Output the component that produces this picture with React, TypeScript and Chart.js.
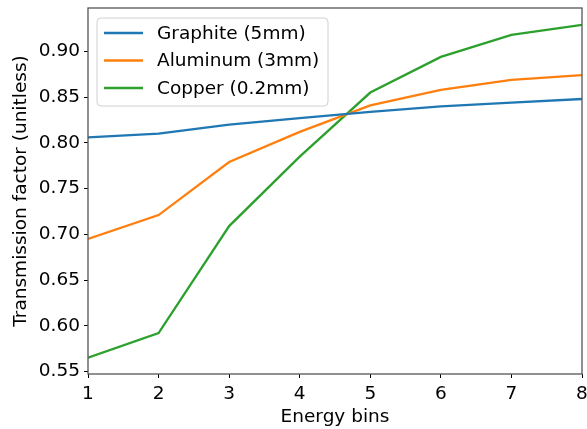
import React, { useEffect, useRef } from "react";
import { Chart, registerables } from "chart.js";

Chart.register(...registerables);

// Energy bin indices along the horizontal axis
const energyBins = [1, 2, 3, 4, 5, 6, 7, 8];

// Transmission factor for each filter material
const graphite5mm = [0.806, 0.810, 0.820, 0.827, 0.834, 0.840, 0.844, 0.848];
const aluminum3mm = [0.695, 0.721, 0.779, 0.812, 0.841, 0.858, 0.869, 0.874];
const copper02mm = [0.565, 0.592, 0.709, 0.785, 0.855, 0.894, 0.918, 0.929];

const seriesLabels = ["Graphite (5mm)", "Aluminum (3mm)", "Copper (0.2mm)"];
const seriesColors = ["#1f77b4", "#ff7f0e", "#2ca02c"];

const yTicks = [0.55, 0.6, 0.65, 0.7, 0.75, 0.8, 0.85, 0.9];
const xTicks = [1, 2, 3, 4, 5, 6, 7, 8];

const FONT = "'DejaVu Sans', sans-serif";
const FONT_SIZE = 18.5;

// Axes frame (all four spines)
const spinesPlugin = {
  id: "spines",
  afterDatasetsDraw(chart: any) {
    const { ctx, chartArea } = chart;
    ctx.save();
    ctx.strokeStyle = "#555";
    ctx.lineWidth = 1.3;
    ctx.strokeRect(chartArea.left, chartArea.top, chartArea.right - chartArea.left, chartArea.bottom - chartArea.top);
    ctx.restore();
  },
};

// Legend box in the upper-left corner of the plot
const legendPlugin = {
  id: "innerLegend",
  afterDraw(chart: any) {
    const { ctx, chartArea } = chart;
    const x0 = chartArea.left + 9;
    const y0 = chartArea.top + 10;
    const w = 231;
    const h = 88;
    const r = 4;
    ctx.save();
    ctx.beginPath();
    ctx.moveTo(x0 + r, y0);
    ctx.arcTo(x0 + w, y0, x0 + w, y0 + h, r);
    ctx.arcTo(x0 + w, y0 + h, x0, y0 + h, r);
    ctx.arcTo(x0, y0 + h, x0, y0, r);
    ctx.arcTo(x0, y0, x0 + w, y0, r);
    ctx.closePath();
    ctx.fillStyle = "rgba(255,255,255,0.8)";
    ctx.fill();
    ctx.strokeStyle = "#d0d0d0";
    ctx.lineWidth = 1;
    ctx.stroke();

    ctx.font = `${FONT_SIZE}px ${FONT}`;
    ctx.textBaseline = "middle";
    ctx.textAlign = "left";
    chart.data.datasets.forEach((ds: any, i: number) => {
      const cy = y0 + 15 + i * 27.5;
      ctx.strokeStyle = ds.borderColor;
      ctx.lineWidth = ds.borderWidth;
      ctx.beginPath();
      ctx.moveTo(x0 + 7, cy);
      ctx.lineTo(x0 + 46, cy);
      ctx.stroke();
      ctx.fillStyle = "#000";
      ctx.fillText(ds.label, x0 + 60, cy + 1);
    });
    ctx.restore();
  },
};

export default function App() {
  const canvasRef = useRef<HTMLCanvasElement | null>(null);

  useEffect(() => {
    document.body.style.margin = "0";
    const canvas = canvasRef.current;
    if (!canvas) return;
    const seriesValues = [graphite5mm, aluminum3mm, copper02mm];
    const chart = new Chart(canvas, {
      type: "line",
      data: {
        datasets: seriesValues.map((vals, i) => ({
          label: seriesLabels[i],
          data: energyBins.map((b, j) => ({ x: b, y: vals[j] })),
          borderColor: seriesColors[i],
          backgroundColor: seriesColors[i],
          borderWidth: 2.3,
          pointRadius: 0,
          tension: 0,
          fill: false,
        })),
      },
      options: {
        responsive: false,
        animation: false,
        devicePixelRatio: 1,
        layout: { padding: { top: 8, right: 5, left: 0, bottom: 0 } },
        plugins: {
          legend: { display: false },
          tooltip: { enabled: false },
        },
        scales: {
          x: {
            type: "linear",
            min: 1,
            max: 8,
            afterBuildTicks: (scale: any) => {
              scale.ticks = xTicks.map((v) => ({ value: v }));
            },
            afterFit: (scale: any) => {
              scale.height = 55;
              scale.paddingLeft = 0;
              scale.paddingRight = 0;
            },
            grid: {
              drawOnChartArea: false,
              drawTicks: true,
              tickLength: 4,
              color: "#000",
            },
            border: { display: false },
            ticks: {
              color: "#000",
              padding: 5,
              maxRotation: 0,
              font: { family: FONT, size: FONT_SIZE },
              callback: (v: any) => String(v),
            },
            title: {
              display: true,
              text: "Energy bins",
              color: "#000",
              font: { family: FONT, size: FONT_SIZE },
              padding: { top: 0, bottom: 1 },
            },
          },
          y: {
            type: "linear",
            min: 0.5472,
            max: 0.9475,
            afterBuildTicks: (scale: any) => {
              scale.ticks = yTicks.map((v) => ({ value: v }));
            },
            afterFit: (scale: any) => {
              scale.width = 88;
              scale.paddingTop = 0;
              scale.paddingBottom = 0;
            },
            grid: {
              drawOnChartArea: false,
              drawTicks: true,
              tickLength: 4,
              color: "#000",
            },
            border: { display: false },
            ticks: {
              color: "#000",
              padding: 4,
              font: { family: FONT, size: FONT_SIZE },
              callback: (v: any) => Number(v).toFixed(2),
            },
            title: {
              display: true,
              text: "Transmission factor (unitless)",
              color: "#000",
              font: { family: FONT, size: FONT_SIZE },
              padding: { top: 10, bottom: 0 },
            },
          },
        },
      },
      plugins: [spinesPlugin, legendPlugin],
    });
    return () => chart.destroy();
  }, []);

  return (
    <div style={{ position: "absolute", left: 0, top: 0, width: 587, height: 429, background: "#fff" }}>
      <canvas ref={canvasRef} width={587} height={429} />
    </div>
  );
}
